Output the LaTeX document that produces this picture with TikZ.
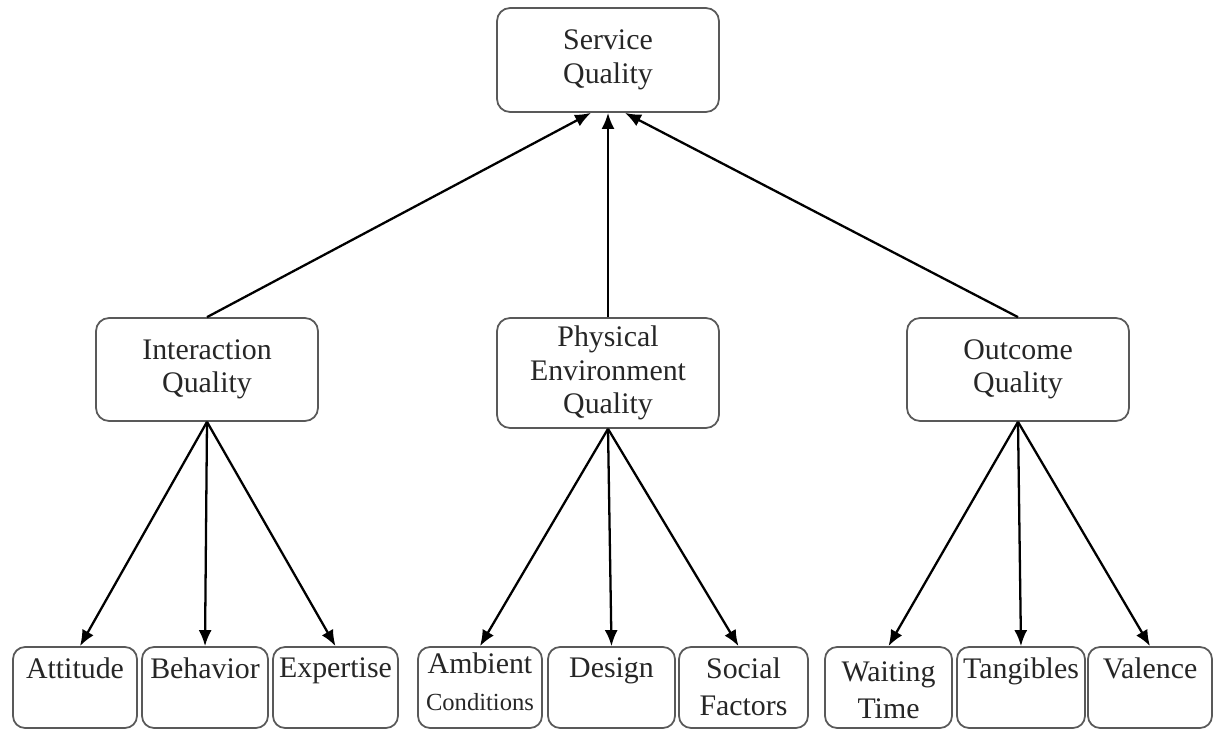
\documentclass[tikz,border=0pt]{standalone}
\usepackage{fontspec}
\setmainfont{Liberation Serif}
\usetikzlibrary{arrows.meta,positioning}

\begin{document}
\begin{tikzpicture}[x=0.02cm, y=-0.02cm,
	box/.style={draw=black!65, line width=1pt, rounded corners=0.26cm, minimum width=4.44cm},
	leaf/.style={draw=black!65, line width=1pt, rounded corners=0.24cm, minimum height=1.62cm},
	word/.style={text=black!85, font=\fontsize{17}{19}\selectfont, align=center, inner sep=0pt},
	small/.style={text=black!85, font=\fontsize{17}{21}\selectfont, align=center, inner sep=0pt},
	arr/.style={line width=1.3pt, -{Latex[length=0.32cm,width=0.26cm]}}]
	\useasboundingbox (0,0) rectangle (1214,730);
	\node[box, word, minimum height=2.08cm] (sq) at (608,60) {Service\\Quality};
	\node[box, word, minimum height=2.06cm] (iq) at (207,369.5) {Interaction\\Quality};
	\node[box, word, minimum height=2.2cm] (pq) at (608,373) {Physical\\Environment\\Quality};
	\node[box, word, minimum height=2.06cm] (oq) at (1018,369.5) {Outcome\\Quality};
	\draw[arr] (iq.north) -- ([xshift=-0.34cm]sq.south);
	\draw[arr] (pq.north) -- (sq.south);
	\draw[arr] (oq.north) -- ([xshift=0.34cm]sq.south);

	\node[leaf, minimum width=2.48cm] (att) at (75,687.5) {};
	\node[leaf, minimum width=2.52cm] (beh) at (205,687.5) {};
	\node[leaf, minimum width=2.5cm] (exp) at (335.5,687.5) {};
	\node[leaf, minimum width=2.48cm] (amb) at (480,687.5) {};
	\node[leaf, minimum width=2.54cm] (des) at (611.5,687.5) {};
	\node[leaf, minimum width=2.58cm] (soc) at (743.5,687.5) {};
	\node[leaf, minimum width=2.54cm] (wai) at (888.5,687.5) {};
	\node[leaf, minimum width=2.56cm] (tan) at (1021,687.5) {};
	\node[leaf, minimum width=2.48cm] (val) at (1150,687.5) {};
	\node[small, below=0.22cm of att.north] (att-t) {Attitude};
	\node[small, below=0.22cm of beh.north] (beh-t) {Behavior};
	\node[small, below=0.22cm of exp.north] (exp-t) {Expertise};
	\node[small, below=0.12cm of amb.north] (amb-t) {Ambient\\{\fontsize{14}{21}\selectfont Conditions}};
	\node[small, below=0.22cm of des.north] (des-t) {Design};
	\node[small, below=0.22cm of soc.north] (soc-t) {Social\\Factors};
	\node[small, below=0.3cm of wai.north] (wai-t) {Waiting\\Time};
	\node[small, below=0.22cm of tan.north] (tan-t) {Tangibles};
	\node[small, below=0.22cm of val.north] (val-t) {Valence};

	\draw[arr] (iq.south) -- ([xshift=0.1cm]att.north);
	\draw[arr] (iq.south) -- (beh.north);
	\draw[arr] (iq.south) -- (exp.north);
	\draw[arr] (pq.south) -- (amb.north);
	\draw[arr] (pq.south) -- (des.north);
	\draw[arr] (pq.south) -- ([xshift=-0.1cm]soc.north);
	\draw[arr] (oq.south) -- (wai.north);
	\draw[arr] (oq.south) -- (tan.north);
	\draw[arr] (oq.south) -- (val.north);
\end{tikzpicture}
\end{document}
